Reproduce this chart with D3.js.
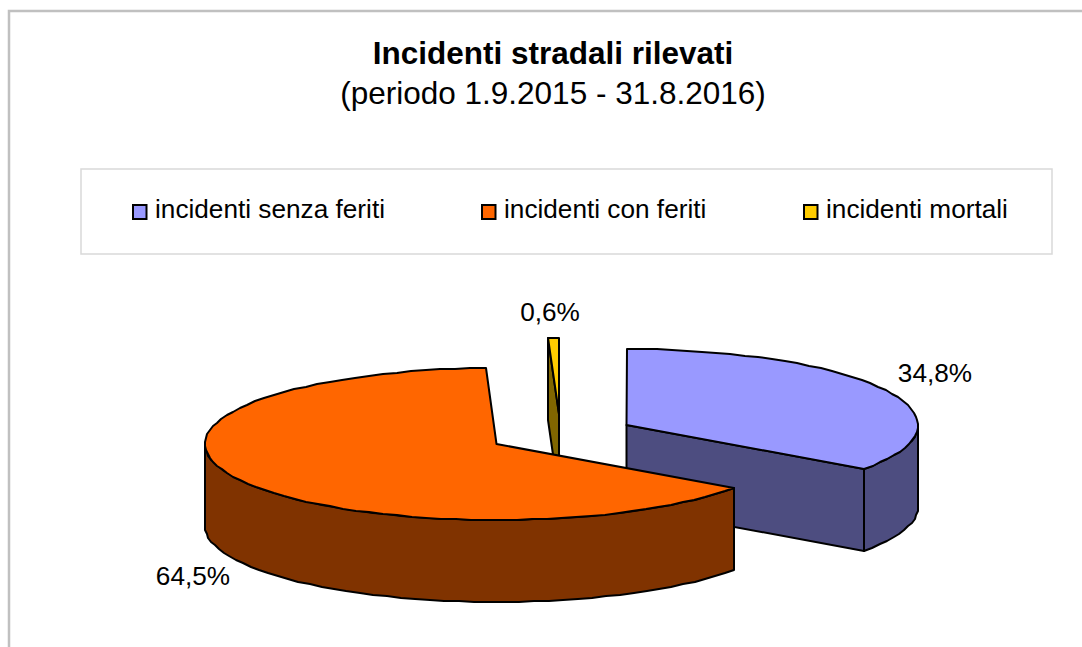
<!DOCTYPE html>
<html><head><meta charset="utf-8">
<script src="https://cdn.jsdelivr.net/npm/d3@7"></script>
<style>html,body{margin:0;padding:0;background:#fff}svg{display:block}text{font-family:"Liberation Sans",Arial,sans-serif;fill:#000}</style>
</head><body><svg width="1082" height="647"></svg>
<script>
const categories = ["incidenti senza feriti","incidenti con feriti","incidenti mortali"];
const values = [34.8,64.5,0.6];
const valueLabels = ["34,8%","64,5%","0,6%"];
const topColors = ["#9999FF","#FF6600","#FFCC00"];
const wallColors = ["#4D4D80","#803300","#806600"];
const centers = [[626.5,425],[496.5,444],[559,414]];
const labelPos = [[935,382],[193,585],[550,321]];
const legendX = [133,482,804];

const RX=291.5, RY=76, DEPTH=82, STEP=Math.PI/60;
const svg=d3.select("svg");
const frame=d3.path();frame.moveTo(9,647);frame.lineTo(9,11);frame.lineTo(1082,11);
svg.append("path").attr("d",frame.toString()).attr("fill","none").attr("stroke","#c0c0c0").attr("stroke-width",2.5);

svg.append("text").attr("x",553).attr("y",64).attr("text-anchor","middle").attr("font-size",31.5).attr("font-weight","bold").text("Incidenti stradali rilevati");
svg.append("text").attr("x",553).attr("y",104).attr("text-anchor","middle").attr("font-size",31.5).text("(periodo 1.9.2015 - 31.8.2016)");

svg.append("rect").attr("x",81).attr("y",169).attr("width",971).attr("height",85).attr("fill","#fff").attr("stroke","#d9d9d9").attr("stroke-width",1.5);
const lg=svg.selectAll("g.lg").data(categories).join("g").attr("class","lg");
lg.append("rect").attr("x",(d,i)=>legendX[i]).attr("y",205).attr("width",13.5).attr("height",14).attr("fill",(d,i)=>topColors[i]).attr("stroke","#000").attr("stroke-width",2);
lg.append("text").attr("x",(d,i)=>legendX[i]+22).attr("y",218).attr("font-size",26.2).text(d=>d);

const arcs=d3.pie().sort(null).startAngle(0).endAngle(2*Math.PI)(values);
const sx=d3.scaleLinear().domain([-1,1]).range([-RX,RX]);
const sy=d3.scaleLinear().domain([-1,1]).range([-RY,RY]);
const line=d3.line().x(d=>d[0]).y(d=>d[1]);
function pt(i,a,dz){return [Math.round(centers[i][0]+sx(Math.sin(a))),Math.round(centers[i][1]+sy(-Math.cos(a)))+(dz||0)];}
function rim(i,a0,a1,dz){const n=Math.max(1,Math.ceil((a1-a0)/STEP));const r=[];for(let k=0;k<=n;k++)r.push(pt(i,a0+(a1-a0)*k/n,dz));return r;}
const style=(sel,f)=>sel.attr("fill",f).attr("stroke","#000").attr("stroke-width",2).attr("stroke-linejoin","round");
const closed=p=>line(p)+"Z";

function drawSlice(i){
  const s=arcs[i];const a0=s.startAngle,a1=s.endAngle;const c=centers[i];
  if(i===0){const e=pt(i,a1);
    style(svg.append("path").attr("d",closed([c,e,[e[0],e[1]+DEPTH],[c[0],c[1]+DEPTH]])),wallColors[i]);}
  if(i===2){const e=pt(i,a0);
    style(svg.append("path").attr("d",closed([e,c,[c[0],c[1]+DEPTH],[e[0],e[1]+DEPTH]])),wallColors[i]);}
  let w0=i===0?Math.PI/2:a0,w1=i===0?a1:Math.min(a1,Math.PI*1.5);
  if(i!==2){
    const top=rim(i,w0,w1,0),bot=rim(i,w0,w1,DEPTH).reverse();
    style(svg.append("path").attr("d",closed(top.concat(bot))),wallColors[i]);
  }
  style(svg.append("path").attr("d",closed([c].concat(rim(i,a0,a1,0)))),topColors[i]);
}
[2,0,1].forEach(drawSlice);

svg.selectAll("text.v").data(valueLabels).join("text").attr("class","v")
  .attr("x",(d,i)=>labelPos[i][0]).attr("y",(d,i)=>labelPos[i][1]).attr("text-anchor","middle").attr("font-size",26.2).text(d=>d);
</script></body></html>
